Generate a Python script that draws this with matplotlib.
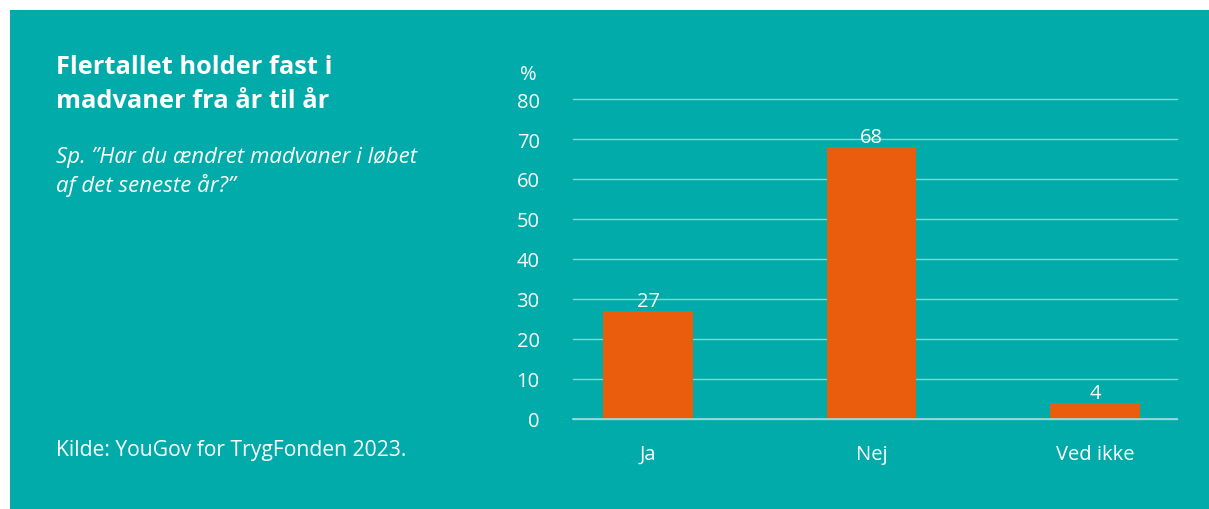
import matplotlib
matplotlib.use("Agg")
import matplotlib.pyplot as plt
from matplotlib.patches import Rectangle

categories = ["Ja", "Nej", "Ved ikke"]
values = [27, 68, 4]
yticks = [0, 10, 20, 30, 40, 50, 60, 70, 80]

TEAL = "#00ABAA"
ORANGE = "#EA5D0C"
W, H = 1209, 510

plt.rcParams['font.family'] = ['Open Sans', 'DejaVu Sans']
fig = plt.figure(figsize=(W/100, H/100), dpi=100)
fig.patch.set_facecolor("white")
fig.patches.append(Rectangle((10/W, 0), 1 - 10/W, 1 - 11/H, transform=fig.transFigure,
                             facecolor=TEAL, edgecolor="none", zorder=-10))

ax = fig.add_axes([573/W, 1 - 420/H, (1177-573)/W, 320/H])
ax.set_zorder(5)
ax.set_facecolor("none")
x = list(range(len(categories)))
ax.bar(x, values, width=0.40, color=ORANGE, zorder=3)
for xi, v in zip(x, values):
    ax.text(xi, v + 0.1, str(v), ha="center", va="bottom", color="white", fontsize=14.5)
ax.set_ylim(0, 80)
ax.set_xlim(-0.336, 2.367)
ax.set_yticks(yticks)
ax.set_yticklabels([str(t) for t in yticks])
ax.set_xticks(x)
ax.set_xticklabels(categories)
ax.tick_params(axis="both", length=0, colors="white", labelsize=14.5)
ax.tick_params(axis="y", pad=24)
ax.tick_params(axis="x", pad=18)
for s in ax.spines.values():
    s.set_visible(False)
ax.grid(axis="y", color="#85d3d3", linewidth=1, zorder=1)
for gl in ax.get_ygridlines():
    gl.set_clip_on(False)
ax.axhline(0, color="#a0dcdc", linewidth=1.2, zorder=4, clip_on=False)
ax.set_axisbelow(True)

fig.text(528/W, 1 - 75/H, "%", color="white", fontsize=14.5, ha="center", va="center")
fig.text(56/W, 1 - 68/H, "Flertallet holder fast i", color="white", fontsize=18.3,
         fontweight="bold", ha="left", va="center")
fig.text(56/W, 1 - 102/H, "madvaner fra år til år", color="white", fontsize=18.3,
         fontweight="bold", ha="left", va="center")
fig.text(56/W, 1 - 158/H, "Sp. \u201dHar du ændret madvaner i løbet", color="white", fontsize=16,
         style="italic", ha="left", va="center")
fig.text(56/W, 1 - 185/H, "af det seneste år?\u201d", color="white", fontsize=16,
         style="italic", ha="left", va="center")
fig.text(56/W, 1 - 451/H, "Kilde: YouGov for TrygFonden 2023.", color="white", fontsize=15.2,
         ha="left", va="center")

fig.savefig("out.png", dpi=100, facecolor=fig.get_facecolor())
